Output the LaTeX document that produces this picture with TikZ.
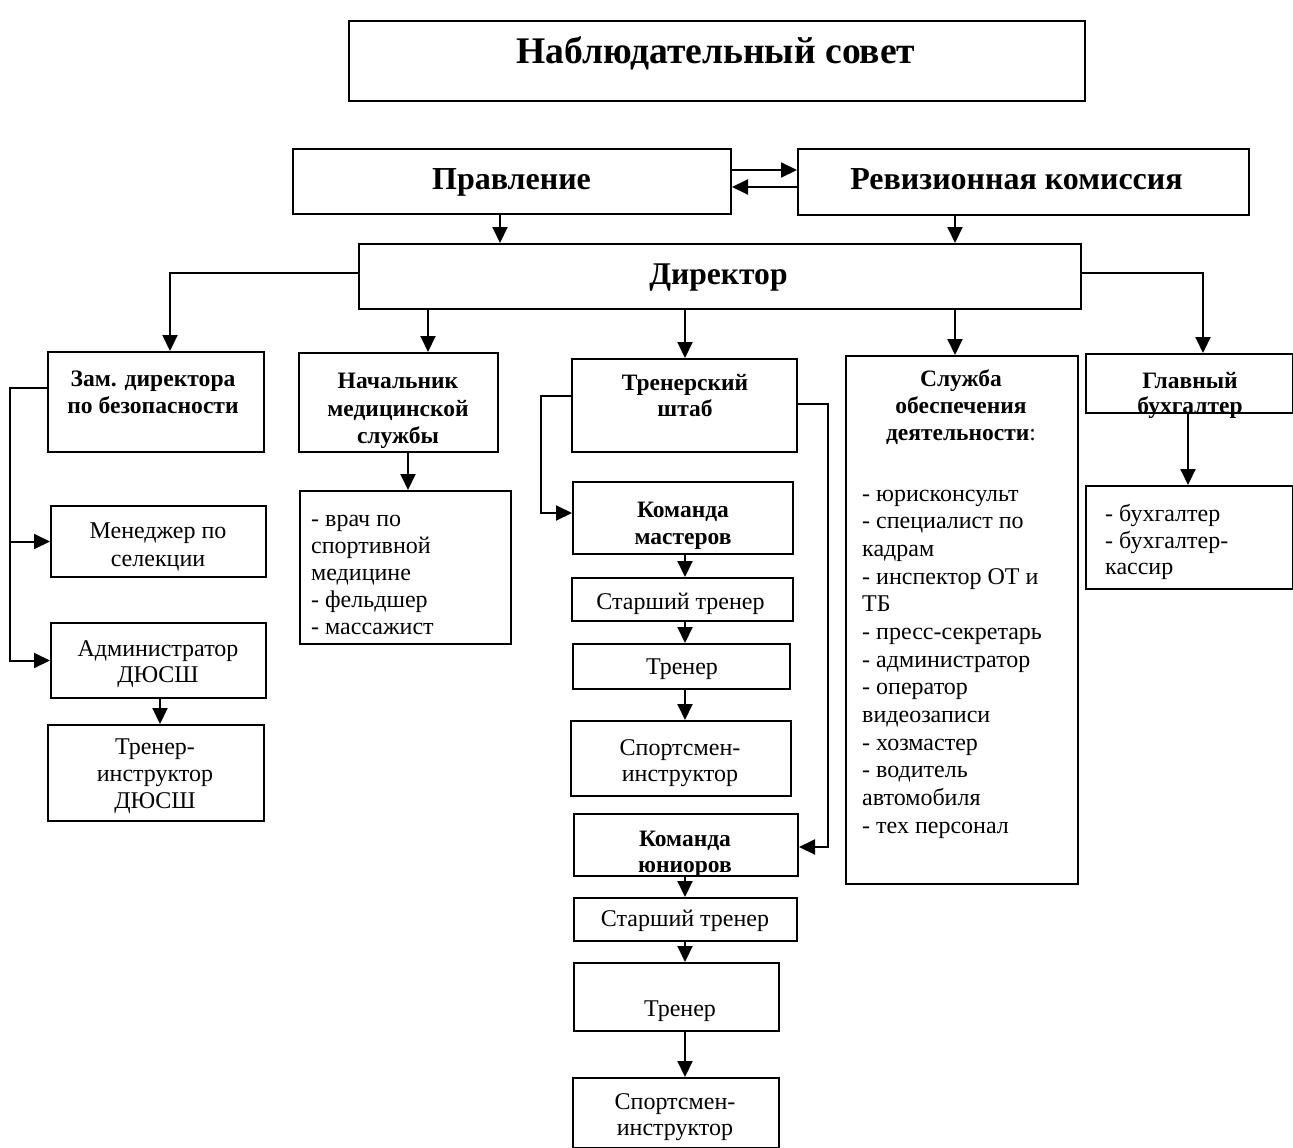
\documentclass[tikz,border=0pt]{standalone}
\usepackage{fontspec}
\setmainfont{Liberation Serif}
\usetikzlibrary{arrows.meta}
\begin{document}
\begin{tikzpicture}[x=1pt,y=-1pt,
  box/.style={draw, line width=2pt, inner sep=0pt, anchor=north west},
  arr/.style={line width=2pt, -{Triangle[length=16pt,width=15pt]}},
  big/.style={font=\fontsize{37.6}{43}\selectfont\bfseries, inner sep=0pt, yshift=-3.5pt},
  mid/.style={font=\fontsize{32}{37}\selectfont\bfseries, inner sep=0pt, yshift=-3.5pt},
  hd/.style={font=\fontsize{23.5}{27.5}\selectfont\bfseries, align=center, inner sep=0pt, yshift=-3.5pt},
  tx/.style={font=\fontsize{24}{27}\selectfont, align=center, inner sep=0pt, yshift=-3.5pt},
  lst/.style={font=\fontsize{24}{27.6}\selectfont, align=left, inner sep=0pt, anchor=west, yshift=-3.5pt}]
\useasboundingbox (0,0) rectangle (1293,1148);
% boxes
\node[box, minimum width=736pt, minimum height=80pt] (nab) at (348,20) {};
\node[box, minimum width=438pt, minimum height=65pt] (prav) at (292,148) {};
\node[box, minimum width=451pt, minimum height=66pt] (rev) at (797,148) {};
\node[box, minimum width=722pt, minimum height=65pt] (dir) at (358,243) {};
\node[box, minimum width=216pt, minimum height=100pt] (zam) at (47,351) {};
\node[box, minimum width=199pt, minimum height=99pt] (nach) at (298,352) {};
\node[box, minimum width=225pt, minimum height=93pt] (tren) at (571,358) {};
\node[box, minimum width=232pt, minimum height=528pt] (sluz) at (845,355) {};
\node[box, minimum width=207pt, minimum height=59pt] (glav) at (1085,353) {};
\node[box, minimum width=215pt, minimum height=71pt] (men) at (50,505) {};
\node[box, minimum width=215pt, minimum height=75pt] (adm) at (50,622) {};
\node[box, minimum width=216pt, minimum height=96pt] (ti) at (47,724) {};
\node[box, minimum width=211pt, minimum height=153pt] (medl) at (299,490) {};
\node[box, minimum width=220pt, minimum height=72pt] (km) at (572,481) {};
\node[box, minimum width=221pt, minimum height=43pt] (st1) at (571,577) {};
\node[box, minimum width=217pt, minimum height=45pt] (tr1) at (572,643) {};
\node[box, minimum width=220pt, minimum height=75pt] (si1) at (570,720) {};
\node[box, minimum width=224pt, minimum height=62pt] (kj) at (573,813) {};
\node[box, minimum width=223pt, minimum height=43pt] (st2) at (573,897) {};
\node[box, minimum width=205pt, minimum height=68pt] (tr2) at (573,962) {};
\node[box, minimum width=206pt, minimum height=70pt] (si2) at (572,1077) {};
\node[box, minimum width=207pt, minimum height=103pt] (bl) at (1085,485) {};
% texts
\node[big] (tnab) at (716,51) {\strut Наблюдательный совет};
\node[mid] (tprav) at (511.5,178.5) {\strut Правление};
\node[mid] (trev) at (1016.5,178.5) {\strut Ревизионная комиссия};
\node[mid, font=\fontsize{31.6}{36}\selectfont\bfseries] (tdir) at (718.5,273.5) {\strut Директор};
\node[hd, font=\fontsize{23.6}{27}\selectfont\bfseries] (tzam) at (153,391) {\strut Зам. директора\\\strut по безопасности};
\node[hd] (tnach) at (398,407) {\strut Начальник\\медицинской\\\strut службы};
\node[hd, font=\fontsize{23.5}{26}\selectfont\bfseries] (ttren) at (685,395) {\strut Тренерский\\\strut штаб};
\node[hd, font=\fontsize{23.5}{27}\selectfont\bfseries] (tsluz) at (961,405) {\strut Служба\\обеспечения\\\strut деятельности\textmd{:}};
\node[hd, font=\fontsize{23.5}{25}\selectfont\bfseries] (tglav) at (1190,392.5) {\strut Главный\\\strut бухгалтер};
\node[tx, font=\fontsize{24}{28}\selectfont] (tmen) at (158,543) {\strut Менеджер по\\\strut селекции};
\node[tx, font=\fontsize{24}{26}\selectfont] (tadm) at (158,661) {\strut Администратор\\\strut ДЮСШ};
\node[tx] (tti) at (155,773) {\strut Тренер-\\инструктор\\\strut ДЮСШ};
\node[lst, font=\fontsize{24}{27}\selectfont] (tmedl) at (311,572) {\strut - врач по\\спортивной\\медицине\\- фельдшер\\\strut - массажист};
\node[hd] (tkm) at (683,522) {\strut Команда\\\strut мастеров};
\node[tx] (tst1) at (680.5,601) {\strut Старший тренер};
\node[tx] (ttr1) at (682,666) {\strut Тренер};
\node[tx, font=\fontsize{24}{26}\selectfont] (tsi1) at (680,760) {\strut Спортсмен-\\\strut инструктор};
\node[hd, font=\fontsize{23.5}{26}\selectfont\bfseries] (tkj) at (685,851) {\strut Команда\\\strut юниоров};
\node[tx] (tst2) at (685,918) {\strut Старший тренер};
\node[tx] (ttr2) at (680,1008) {\strut Тренер};
\node[tx, font=\fontsize{24}{26}\selectfont] (tsi2) at (675,1114) {\strut Спортсмен-\\\strut инструктор};
\node[lst, font=\fontsize{24}{27.67}\selectfont] (tsl) at (862,658) {\strut - юрисконсульт\\- специалист по\\кадрам\\- инспектор ОТ и\\ТБ\\- пресс-секретарь\\- администратор\\- оператор\\видеозаписи\\- хозмастер\\- водитель\\автомобиля\\\strut - тех персонал};
\node[lst, font=\fontsize{24}{26.5}\selectfont] (tbl) at (1105,539.5) {\strut - бухгалтер\\- бухгалтер-\\\strut кассир};
% connectors
\draw[arr] (prav.east |- 0,170) -- (rev.west |- 0,170);
\draw[arr] (rev.west |- 0,187) -- (prav.east |- 0,187);
\draw[arr] (prav.south -| 500,0) -- (dir.north -| 500,0);
\draw[arr] (rev.south -| 955,0) -- (dir.north -| 955,0);
\draw[arr] (dir.west |- 0,273) -| (zam.north -| 170,0);
\draw[arr] (dir.east |- 0,273) -| (glav.north -| 1203,0);
\draw[arr] (dir.south -| 428,0) -- (nach.north -| 428,0);
\draw[arr] (dir.south -| 685,0) -- (tren.north -| 685,0);
\draw[arr] (dir.south -| 955,0) -- (sluz.north -| 955,0);
\coordinate (zl) at (10,388);
\draw[arr] (zam.west |- zl) -- (zl) |- (adm.west);
\draw[arr] (zl |- men.west) -- (men.west);
\draw[arr] (adm.south -| 160,0) -- (ti.north -| 160,0);
\draw[arr] (nach.south -| 408,0) -- (medl.north -| 408,0);
\coordinate (tl) at (541,396);
\draw[arr] (tren.west |- tl) -- (tl) |- (km.west |- 0,513);
\coordinate (tr) at (828,404);
\draw[arr] (tren.east |- tr) -- (tr) |- (kj.east |- 0,847);
\draw[arr] (km.south -| 685,0) -- (st1.north -| 685,0);
\draw[arr] (st1.south -| 685,0) -- (tr1.north -| 685,0);
\draw[arr] (tr1.south -| 685,0) -- (si1.north -| 685,0);
\draw[arr] (kj.south -| 685,0) -- (st2.north -| 685,0);
\draw[arr] (st2.south -| 685,0) -- (tr2.north -| 685,0);
\draw[arr] (tr2.south -| 685,0) -- (si2.north -| 685,0);
\draw[arr] (glav.south -| 1188,0) -- (bl.north -| 1188,0);
\end{tikzpicture}
\end{document}
